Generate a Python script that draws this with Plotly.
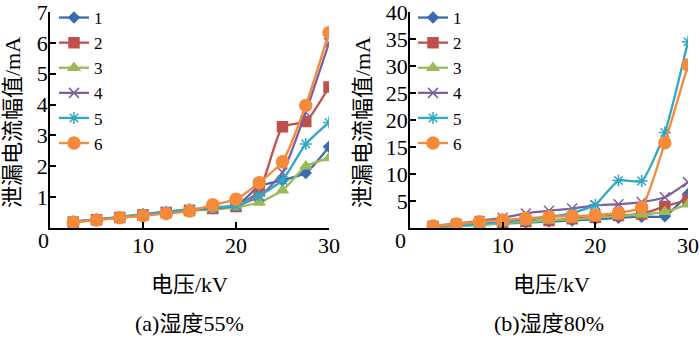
import plotly.graph_objects as go

voltage = [2.5, 5, 7.5, 10, 12.5, 15, 17.5, 20, 22.5, 25, 27.5, 30]
series_names = ["1", "2", "3", "4", "5", "6"]

# (a) humidity 55%
a1 = [0.20, 0.27, 0.34, 0.43, 0.51, 0.58, 0.63, 0.70, 1.35, 1.55, 1.78, 2.63]
a2 = [0.19, 0.27, 0.34, 0.42, 0.50, 0.57, 0.63, 0.70, 1.20, 3.28, 3.45, 4.57]
a3 = [0.18, 0.26, 0.33, 0.41, 0.49, 0.56, 0.60, 0.68, 0.83, 1.22, 2.00, 2.27]
a4 = [0.20, 0.28, 0.35, 0.44, 0.52, 0.59, 0.64, 0.72, 1.02, 1.80, 3.75, 6.00]
a5 = [0.21, 0.28, 0.36, 0.45, 0.53, 0.61, 0.66, 0.73, 1.05, 1.55, 2.72, 3.42]
a6 = [0.19, 0.26, 0.33, 0.40, 0.47, 0.55, 0.75, 0.93, 1.47, 2.15, 3.97, 6.33]

# (b) humidity 80%
b1 = [0.2, 0.4, 0.6, 0.8, 1.0, 1.2, 1.4, 1.6, 1.9, 2.1, 2.2, 6.3]
b2 = [0.2, 0.4, 0.7, 0.9, 1.2, 1.4, 1.7, 2.0, 2.3, 2.6, 4.0, 5.2]
b3 = [0.2, 0.4, 0.6, 0.9, 1.1, 1.4, 1.6, 1.9, 2.2, 2.5, 3.0, 4.4]
b4 = [0.4, 0.8, 1.3, 1.9, 2.7, 3.2, 3.6, 4.2, 4.4, 4.8, 5.7, 8.5]
b5 = [0.3, 0.5, 0.8, 1.1, 1.5, 2.0, 2.8, 4.3, 8.8, 8.7, 17.7, 34.5]
b6 = [0.37, 0.73, 1.16, 1.47, 1.77, 2.08, 2.2, 2.4, 2.8, 3.8, 15.8, 30.2]

y_ticks_a = [1, 2, 3, 4, 5, 6, 7]
y_ticks_b = [5, 10, 15, 20, 25, 30, 35, 40]
x_ticks = [10, 20, 30]

colors = ["#3B6BB2", "#C0504D", "#9BBB59", "#7D60A0", "#2FA8C4", "#F58A3A"]
symbols = ["diamond", "square", "triangle-up", "x-thin-open", "asterisk-open", "circle"]
msizes = [8, 10, 10, 10, 10, 12]

NUMFONT = "Liberation Serif, serif"
FONT = "Liberation Serif, Noto Sans CJK SC, serif"

fig = go.Figure()
for i, ys in enumerate([a1, a2, a3, a4, a5, a6]):
    fig.add_trace(go.Scatter(
        x=voltage, y=ys, name=series_names[i], mode="lines+markers",
        line=dict(color=colors[i], width=2.3, shape="spline", smoothing=0.5),
        marker=dict(symbol=symbols[i], size=msizes[i], color=colors[i],
                    line=dict(color=colors[i], width=1.5)),
        xaxis="x", yaxis="y", legend="legend"))
for i, ys in enumerate([b1, b2, b3, b4, b5, b6]):
    fig.add_trace(go.Scatter(
        x=voltage, y=ys, name=series_names[i], mode="lines+markers",
        line=dict(color=colors[i], width=2.3, shape="spline", smoothing=0.5),
        marker=dict(symbol=symbols[i], size=msizes[i], color=colors[i],
                    line=dict(color=colors[i], width=1.5)),
        xaxis="x2", yaxis="y2", legend="legend2"))

yd = [110 / 338, 326 / 338]
axis_common = dict(showline=True, linecolor="black", linewidth=1.5, ticks="inside",
                   ticklen=6, tickwidth=1.5, tickcolor="black", showgrid=False,
                   zeroline=False, ticklabeloverflow="allow", automargin=False,
                   tickfont=dict(family=NUMFONT, size=22, color="black"))

fig.update_layout(
    width=700, height=338, margin=dict(l=0, r=0, t=0, b=0, autoexpand=False),
    paper_bgcolor="white", plot_bgcolor="white", showlegend=True,
    xaxis=dict(domain=[50 / 700, 329 / 700], range=[0, 30.0001], tickvals=x_ticks,
               anchor="y", ticklabelstandoff=-3, **axis_common),
    yaxis=dict(domain=yd, range=[0, 7.0001], tickvals=y_ticks_a, anchor="x",
               ticklabelstandoff=-4, **axis_common),
    xaxis2=dict(domain=[410 / 700, 688 / 700], range=[0, 30.0001], tickvals=x_ticks,
                anchor="y2", ticklabelstandoff=-3, **axis_common),
    yaxis2=dict(domain=yd, range=[0, 40.0001], tickvals=y_ticks_b, anchor="x2",
                ticklabelstandoff=-4, **axis_common),
    legend=dict(x=54 / 700, y=1, xanchor="left", yanchor="top",
                bgcolor="rgba(0,0,0,0)", font=dict(family=NUMFONT, size=17, color="black"),
                itemwidth=30, tracegroupgap=0),
    legend2=dict(x=413 / 700, y=1, xanchor="left", yanchor="top",
                 bgcolor="rgba(0,0,0,0)", font=dict(family=NUMFONT, size=17, color="black"),
                 itemwidth=30, tracegroupgap=0),
)

ann_font = dict(family=FONT, size=22, color="black")
C = dict(xref="paper", yref="paper", showarrow=False, xanchor="center", yanchor="middle")
annotations = [
    dict(text="0", x=43 / 700, y=1 - 240 / 338,
         font=dict(family=NUMFONT, size=22, color="black"), **C),
    dict(text="0", x=400 / 700, y=1 - 240 / 338,
         font=dict(family=NUMFONT, size=22, color="black"), **C),
    dict(text="泄漏电流幅值/mA", x=13 / 700, y=1 - 123 / 338, textangle=-90,
         font=ann_font, **C),
    dict(text="泄漏电流幅值/mA", x=363 / 700, y=1 - 123 / 338, textangle=-90,
         font=ann_font, **C),
    dict(text="电压/kV", x=190 / 700, y=1 - 284 / 338, font=ann_font, **C),
    dict(text="电压/kV", x=551 / 700, y=1 - 284 / 338, font=ann_font, **C),
    dict(text="(a)湿度55%", x=190 / 700, y=1 - 323 / 338, font=ann_font, **C),
    dict(text="(b)湿度80%", x=549 / 700, y=1 - 323 / 338, font=ann_font, **C),
]
fig.update_layout(annotations=annotations)

fig.write_html("out.html")
